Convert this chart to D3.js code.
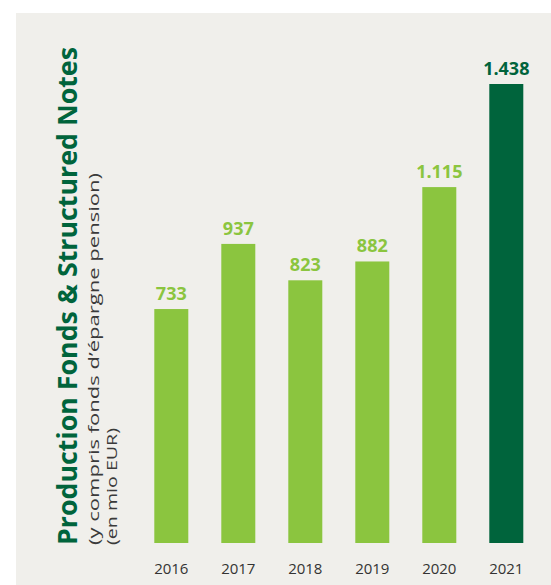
<!DOCTYPE html>
<html>
<head>
<meta charset="utf-8">
<script src="https://cdn.jsdelivr.net/npm/d3@7"></script>
<style>
  html, body { margin: 0; padding: 0; background: #ffffff; }
  svg { display: block; }
</style>
</head>
<body>
<svg id="chart" width="551" height="585"></svg>
<script>
const years = ["2016", "2017", "2018", "2019", "2020", "2021"];
const values = [733, 937, 823, 882, 1115, 1438];
const highlight = [false, false, false, false, false, true];
const title = "Production Fonds & Structured Notes";
const subtitle1 = "(y compris fonds d\u2019\u00e9pargne pension)";
const subtitle2 = "(en mio EUR)";

const W = 551, H = 585;
const lightGreen = "#8bc53f";
const darkGreen = "#00643c";
const svg = d3.select("#chart");

svg.append("rect").attr("x", 16).attr("y", 13).attr("width", W - 16).attr("height", H - 13)
  .attr("fill", "#f0efeb");

const x = d3.scaleBand().domain(years).range([154.3, 523.3]).paddingInner(0.4925).paddingOuter(0);
const y = d3.scaleLinear().domain([0, d3.max(values)]).range([543, 84]);

const fmt = d3.formatLocale({decimal: ",", thousands: ".", grouping: [3], currency: ["", "\u20ac"]}).format(",");

const data = years.map((yr, i) => ({year: yr, value: values[i], hi: highlight[i]}));

svg.append("g").selectAll("rect").data(data).join("rect")
  .attr("x", d => x(d.year))
  .attr("y", d => y(d.value))
  .attr("width", x.bandwidth())
  .attr("height", d => y(0) - y(d.value))
  .attr("fill", d => d.hi ? darkGreen : lightGreen);

svg.append("g").selectAll("text").data(data).join("text")
  .attr("x", d => x(d.year) + x.bandwidth() / 2)
  .attr("y", d => y(d.value) - 9)
  .attr("text-anchor", "middle")
  .attr("font-family", "'Open Sans', sans-serif")
  .attr("font-weight", 700)
  .attr("font-size", 18)
  .attr("fill", d => d.hi ? darkGreen : lightGreen)
  .text(d => fmt(d.value));

// x axis labels (no line)
const xAxis = d3.axisBottom(x).tickSize(0).tickPadding(0);
const gx = svg.append("g").attr("transform", "translate(0,563)").call(xAxis);
gx.select(".domain").remove();
gx.selectAll("text")
  .attr("font-family", "'Open Sans', sans-serif")
  .attr("font-size", 15)
  .attr("fill", "#333333")
  .attr("dy", "0.72em");

// vertical title
const tg = svg.append("g");
tg.append("text")
  .attr("transform", "translate(77,545) rotate(-90)")
  .attr("font-family", "'Open Sans', sans-serif")
  .attr("font-weight", 700)
  .attr("font-size", 26)
  .attr("fill", darkGreen)
  .attr("textLength", 498)
  .attr("lengthAdjust", "spacingAndGlyphs")
  .text(title);
tg.append("text")
  .attr("transform", "translate(99,545) rotate(-90)")
  .attr("font-family", "'Open Sans', sans-serif")
  .attr("font-weight", 400)
  .attr("font-size", 15)
  .attr("fill", "#3a3a3a")
  .attr("textLength", 372)
  .attr("lengthAdjust", "spacingAndGlyphs")
  .text(subtitle1);
tg.append("text")
  .attr("transform", "translate(117,545) rotate(-90)")
  .attr("font-family", "'Open Sans', sans-serif")
  .attr("font-weight", 400)
  .attr("font-size", 15)
  .attr("fill", "#3a3a3a")
  .attr("textLength", 117)
  .attr("lengthAdjust", "spacingAndGlyphs")
  .text(subtitle2);
</script>
</body>
</html>
